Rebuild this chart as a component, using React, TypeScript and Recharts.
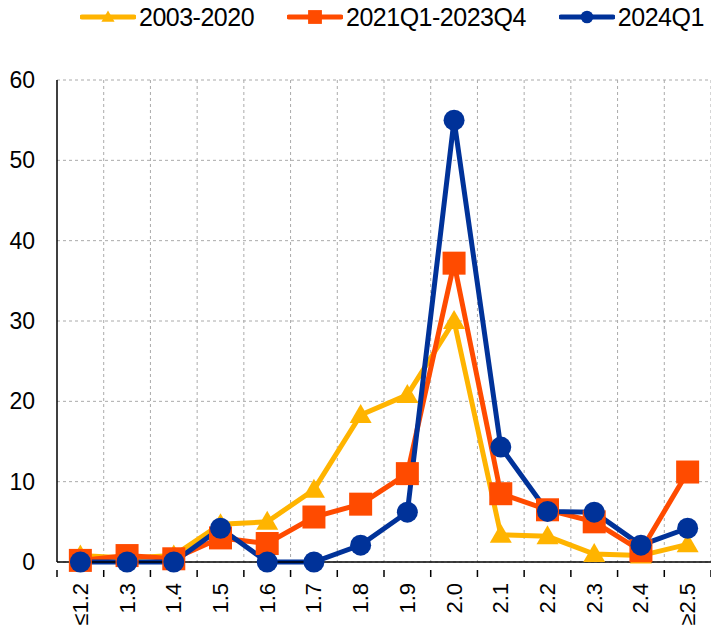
import React from 'react';
import { LineChart, Line, XAxis, YAxis, CartesianGrid } from 'recharts';

const categories = ['≤1.2', '1.3', '1.4', '1.5', '1.6', '1.7', '1.8', '1.9', '2.0', '2.1', '2.2', '2.3', '2.4', '≥2.5'];
const hist2003 = [0.8, 0.5, 0.8, 4.7, 5.0, 9.0, 18.3, 20.8, 30.0, 3.4, 3.2, 1.0, 0.8, 2.2];
const hist2021 = [0.2, 0.8, 0.4, 3.0, 2.3, 5.6, 7.2, 11.0, 37.2, 8.5, 6.5, 5.0, 1.4, 11.2];
const latest2024 = [0, 0, 0, 4.2, 0, 0, 2.1, 6.2, 55.0, 14.3, 6.3, 6.2, 2.1, 4.2];
const yTicks = [0, 10, 20, 30, 40, 50, 60];

const YELLOW = '#FFB400';
const ORANGE = '#FF4B00';
const BLUE = '#003299';
const FONT = '"Liberation Sans", Arial, sans-serif';

const W = 711;
const H = 627;
const Y_AXIS_W = 57;
const BAND = (W - Y_AXIS_W) / categories.length;

const data = categories.map((cat, i) => ({
  cat,
  a: hist2003[i],
  b: hist2021[i],
  c: latest2024[i],
}));

const Triangle = ({ cx, cy, fill, s = 1 }: any) => (
  <polygon
    points={`${cx},${cy - 11 * s} ${cx + 11 * s},${cy + 8 * s} ${cx - 11 * s},${cy + 8 * s}`}
    fill={fill}
  />
);
const Square = ({ cx, cy, fill, s = 1 }: any) => (
  <rect x={cx - 11.5 * s} y={cy - 11.5 * s} width={23 * s} height={23 * s} fill={fill} />
);
const Circle = ({ cx, cy, fill, s = 1 }: any) => <circle cx={cx} cy={cy} r={10.5 * s} fill={fill} />;

const series = [
  { key: 'a', name: '2003-2020', color: YELLOW, Marker: Triangle },
  { key: 'b', name: '2021Q1-2023Q4', color: ORANGE, Marker: Square },
  { key: 'c', name: '2024Q1', color: BLUE, Marker: Circle },
];

// category label rotated, plus tick marks on the band edges
const XTick = ({ x, y, payload, index }: any) => (
  <g>
    <line x1={x - BAND / 2} y1={y} x2={x - BAND / 2} y2={y + 7} stroke="#000" strokeWidth={1.5} />
    {index === categories.length - 1 && (
      <line x1={x + BAND / 2} y1={y} x2={x + BAND / 2} y2={y + 7} stroke="#000" strokeWidth={1.5} />
    )}
    <text
      transform={`translate(${x},${y + 13}) rotate(-90)`}
      textAnchor="end"
      dominantBaseline="central"
      fontSize={22}
      fontFamily={FONT}
      fill="#000"
    >
      {payload.value}
    </text>
  </g>
);

const TopLegend = () => (
  <div
    style={{
      height: 34,
      display: 'flex',
      alignItems: 'center',
      paddingLeft: 80,
      fontFamily: FONT,
      fontSize: 25,
      color: '#000',
    }}
  >
    {series.map((s, i) => (
      <div key={s.key} style={{ display: 'flex', alignItems: 'center', marginRight: i < 2 ? 33 : 0 }}>
        <svg width={56} height={24} style={{ marginRight: 3 }}>
          <line x1={2} y1={12} x2={54} y2={12} stroke={s.color} strokeWidth={5} strokeLinecap="round" />
          <s.Marker cx={28} cy={12} fill={s.color} s={0.6} />
        </svg>
        <span style={{ letterSpacing: -0.5 }}>{s.name}</span>
      </div>
    ))}
  </div>
);

export default function App() {
  return (
    <div style={{ position: 'absolute', left: 0, top: 0, width: W, height: H, background: '#fff' }}>
      <div style={{ position: 'absolute', left: 0, top: 0, width: W }}>
        <TopLegend />
      </div>
      <LineChart width={W} height={H} data={data} margin={{ top: 80, right: 0, left: 0, bottom: 0 }}>
        <CartesianGrid
          stroke="#aaa"
          strokeDasharray="3 3"
          verticalCoordinatesGenerator={({ offset }: any) =>
            categories.map((_, i) => offset.left + (i + 1) * (offset.width / categories.length))
          }
        />
        <XAxis
          dataKey="cat"
          scale="band"
          interval={0}
          height={65}
          tick={<XTick />}
          tickLine={false}
          axisLine={{ stroke: '#000', strokeWidth: 1.5 }}
        />
        <YAxis
          width={Y_AXIS_W}
          domain={[0, 60]}
          ticks={yTicks}
          tickSize={0}
          tickLine={false}
          tickMargin={22}
          axisLine={{ stroke: '#000', strokeWidth: 1.5 }}
          tick={{ fontSize: 23, fontFamily: FONT, fill: '#000' }}
        />
        {series.map((s) => (
          <Line
            key={s.key}
            type="linear"
            dataKey={s.key}
            name={s.name}
            stroke={s.color}
            strokeWidth={5}
            isAnimationActive={false}
            dot={(p: any) => <s.Marker key={`${s.key}-${p.index}`} cx={p.cx} cy={p.cy} fill={s.color} />}
            activeDot={false}
          />
        ))}
      </LineChart>
    </div>
  );
}
